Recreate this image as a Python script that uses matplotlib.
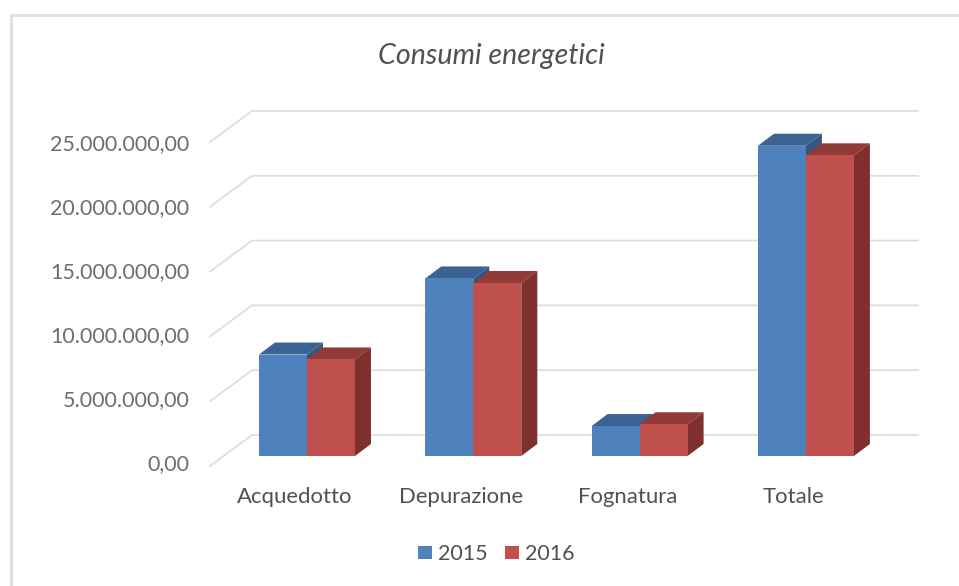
#!/usr/bin/env python3
import matplotlib
matplotlib.use("Agg")
import matplotlib.pyplot as plt
from matplotlib.patches import Polygon, Rectangle
from matplotlib.lines import Line2D

categories = ["Acquedotto", "Depurazione", "Fognatura", "Totale"]
values_2015 = [7.83e6, 13.7e6, 2.31e6, 23.94e6]
values_2016 = [7.45e6, 13.35e6, 2.45e6, 23.2e6]
yticks = [0, 5e6, 10e6, 15e6, 20e6, 25e6]
ytick_labels = ["0,00", "5.000.000,00", "10.000.000,00", "15.000.000,00", "20.000.000,00", "25.000.000,00"]

W, H = 959, 586
FONT = "Lato"
X0, X1 = -0.583, 3.674

fig = plt.figure(figsize=(W / 100, H / 100), dpi=100)
# plot area is the front edge of the 3d wall
ax = fig.add_axes([210 / W, 1 - 466 / H, 708 / W, 324 / H])
ax.set_xlim(X0, X1)
ax.set_ylim(0, 25e6)
ax.axis("off")

# pixel sizes in data units
px_x = (X1 - X0) / 708
px_y = 25e6 / 324
wall_dx, wall_dy = 42 * px_x, 31 * px_y
bar_dx, bar_dy = 16 * px_x, 12 * px_y
floor = 10 * px_y
width = 48 * px_x


def shade(ax, x, v, colors):
    top, side, front = colors
    y1 = floor + v
    ax.add_patch(Polygon([(x, y1), (x + bar_dx, y1 + bar_dy), (x + width + bar_dx, y1 + bar_dy), (x + width, y1)],
                         fc=top, ec="none", clip_on=False, zorder=3))
    ax.add_patch(Polygon([(x + width, floor), (x + width + bar_dx, floor + bar_dy), (x + width + bar_dx, y1 + bar_dy), (x + width, y1)],
                         fc=side, ec="none", clip_on=False, zorder=3))
    ax.add_patch(Rectangle((x, floor), width, v, fc=front, ec="none", clip_on=False, zorder=3))


# gridlines with the wall part
for t in yticks:
    ax.plot([X0, X0 + wall_dx, X1], [t, t + wall_dy, t + wall_dy],
            color="#dedede", lw=1.3, clip_on=False, solid_joinstyle="miter", zorder=1)

for i in range(len(categories)):
    shade(ax, i - width, values_2015[i], ("#3a6394", "#33577f", "#4f81bd"))
    shade(ax, i, values_2016[i], ("#923a38", "#7f302e", "#c0504d"))

for t, lab in zip(yticks, ytick_labels):
    ax.annotate(lab, (X0, t), xytext=(189.5, H - (464 - t / px_y * 0.988)), xycoords="data",
                textcoords="figure pixels", ha="right", va="center", fontsize=15.5,
                color="#6e6e6e", family=FONT)

for i, c in enumerate(categories):
    ax.annotate(c, (i, 0), xytext=(-12, -31), textcoords="offset pixels", ha="center", va="center",
                fontsize=15.9, color="#505050", family=FONT)

fig.text(491 / W, 1 - 56 / H, "Consumi energetici", ha="center", va="center", fontsize=20.6,
         style="italic", color="#505050", family=FONT)

handles = [Rectangle((0, 0), 1, 1, fc="#4f81bd"), Rectangle((0, 0), 1, 1, fc="#c0504d")]
leg = fig.legend(handles, ["2015", "2016"], ncol=2, loc="center", bbox_to_anchor=(496 / W, 1 - 554.5 / H),
                 frameon=False, handlelength=0.65, handleheight=0.56, handletextpad=0.28, columnspacing=0.8,
                 prop={"family": FONT, "size": 15.5}, labelcolor="#505050")

# chart frame, only top and left show in the crop
fig.add_artist(Line2D([10.5 / W, 10.5 / W, 1], [0, 1 - 15 / H, 1 - 15 / H],
                      color="#dedede", lw=2, solid_joinstyle="miter"))

fig.savefig("out.png", dpi=100, facecolor="white")
plt.close(fig)
